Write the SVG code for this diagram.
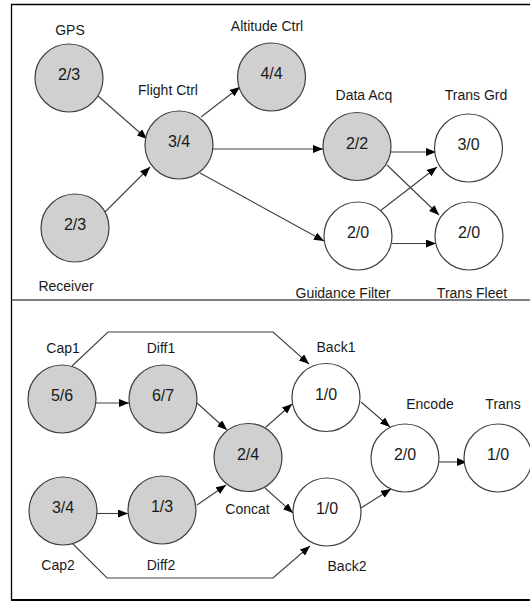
<svg xmlns="http://www.w3.org/2000/svg" width="530" height="602" viewBox="0 0 530 602">
<style>
.n{stroke:#404040;stroke-width:1.2}
.g{fill:#d0d0d0}
.w{fill:#ffffff}
.v{font-family:"Liberation Sans",Arial,sans-serif;font-size:16px;fill:#1a1a1a;text-anchor:middle}
.l{font-family:"Liberation Sans",Arial,sans-serif;font-size:14px;fill:#1a1a1a;text-anchor:middle}
.e{fill:none;stroke:#404040;stroke-width:1.1;marker-end:url(#ah)}
</style>
<defs>
<marker id="ah" markerUnits="userSpaceOnUse" markerWidth="10" markerHeight="8" refX="10" refY="4" orient="auto">
<path d="M0,0 L10,4 L0,8 z" fill="#000"/>
</marker>
</defs>
<rect x="0" y="0" width="530" height="602" fill="#fff"/>
<g id="frame" fill="none">
<path d="M531,4.5 H11.5 V600" stroke="#000" stroke-width="1.3"/>
<path d="M11,600 H531" stroke="#000" stroke-width="2"/>
<path d="M12,300 H531" stroke="#808080" stroke-width="2"/>
</g>
<g id="connectors">
<path class="e" d="M97,95 L147,139"/>
<path class="e" d="M105,212 L150,167"/>
<path class="e" d="M201,117 L240,87"/>
<path class="e" d="M212,149 L323,149"/>
<path class="e" d="M200,173 L324,241"/>
<path class="e" d="M391,152 L436,152"/>
<path class="e" d="M387,165 L439,215"/>
<path class="e" d="M380,211 L437,167"/>
<path class="e" d="M392,243.5 L436,243.5"/>
<path class="e" d="M96,403 L129,403"/>
<path class="e" d="M197,403 L227,430"/>
<path class="e" d="M96,513.5 L128,513.5"/>
<path class="e" d="M197,505 L226,485"/>
<path class="e" d="M266,427 L292,404"/>
<path class="e" d="M265,488 L293,513"/>
<path class="e" d="M361,402 L390,427"/>
<path class="e" d="M361,508 L391,489"/>
<path class="e" d="M438,462 L467,462"/>
<path class="e" d="M72,366 L108,332 L273,332 L309,364"/>
<path class="e" d="M70,541 L107,578 L273,578 L310,546"/>
</g>
<g id="gps"><circle class="n g" cx="69" cy="78" r="34"/><text class="v" x="69" y="80">2/3</text><text class="l" x="70" y="35">GPS</text></g>
<g id="receiver"><circle class="n g" cx="75" cy="228" r="34"/><text class="v" x="75" y="230">2/3</text><text class="l" x="66" y="291">Receiver</text></g>
<g id="flight-ctrl"><circle class="n g" cx="179" cy="145" r="34"/><text class="v" x="179" y="147">3/4</text><text class="l" x="168" y="95">Flight Ctrl</text></g>
<g id="altitude-ctrl"><circle class="n g" cx="271.5" cy="77" r="34"/><text class="v" x="271.5" y="79">4/4</text><text class="l" x="267" y="31">Altitude Ctrl</text></g>
<g id="data-acq"><circle class="n g" cx="357" cy="146.5" r="34"/><text class="v" x="357" y="148.5">2/2</text><text class="l" x="364" y="100">Data Acq</text></g>
<g id="trans-grd"><circle class="n w" cx="468.5" cy="148" r="34"/><text class="v" x="468.5" y="150">3/0</text><text class="l" x="476" y="100">Trans Grd</text></g>
<g id="guidance-filter"><circle class="n w" cx="358" cy="236" r="34"/><text class="v" x="358" y="238">2/0</text><text class="l" x="343" y="298">Guidance Filter</text></g>
<g id="trans-fleet"><circle class="n w" cx="469" cy="236" r="34"/><text class="v" x="469" y="238">2/0</text><text class="l" x="472" y="298">Trans Fleet</text></g>
<g id="cap1"><circle class="n g" cx="62" cy="399" r="34"/><text class="v" x="62" y="401">5/6</text><text class="l" x="63" y="353">Cap1</text></g>
<g id="diff1"><circle class="n g" cx="163" cy="399" r="34"/><text class="v" x="163" y="401">6/7</text><text class="l" x="161" y="353">Diff1</text></g>
<g id="cap2"><circle class="n g" cx="63" cy="511" r="34"/><text class="v" x="63" y="513">3/4</text><text class="l" x="58" y="570">Cap2</text></g>
<g id="diff2"><circle class="n g" cx="162" cy="510" r="34"/><text class="v" x="162" y="512">1/3</text><text class="l" x="161" y="570">Diff2</text></g>
<g id="concat"><circle class="n g" cx="248" cy="457.5" r="34"/><text class="v" x="248" y="459.5">2/4</text><text class="l" x="247.5" y="514">Concat</text></g>
<g id="back1"><circle class="n w" cx="326" cy="397.5" r="34"/><text class="v" x="326" y="399.5">1/0</text><text class="l" x="336" y="352">Back1</text></g>
<g id="back2"><circle class="n w" cx="327" cy="512" r="34"/><text class="v" x="327" y="514">1/0</text><text class="l" x="347" y="571">Back2</text></g>
<g id="encode"><circle class="n w" cx="405" cy="458" r="34"/><text class="v" x="405" y="460">2/0</text><text class="l" x="430" y="409">Encode</text></g>
<g id="trans"><circle class="n w" cx="498" cy="458" r="34"/><text class="v" x="498" y="460">1/0</text><text class="l" x="503" y="409">Trans</text></g>
</svg>
